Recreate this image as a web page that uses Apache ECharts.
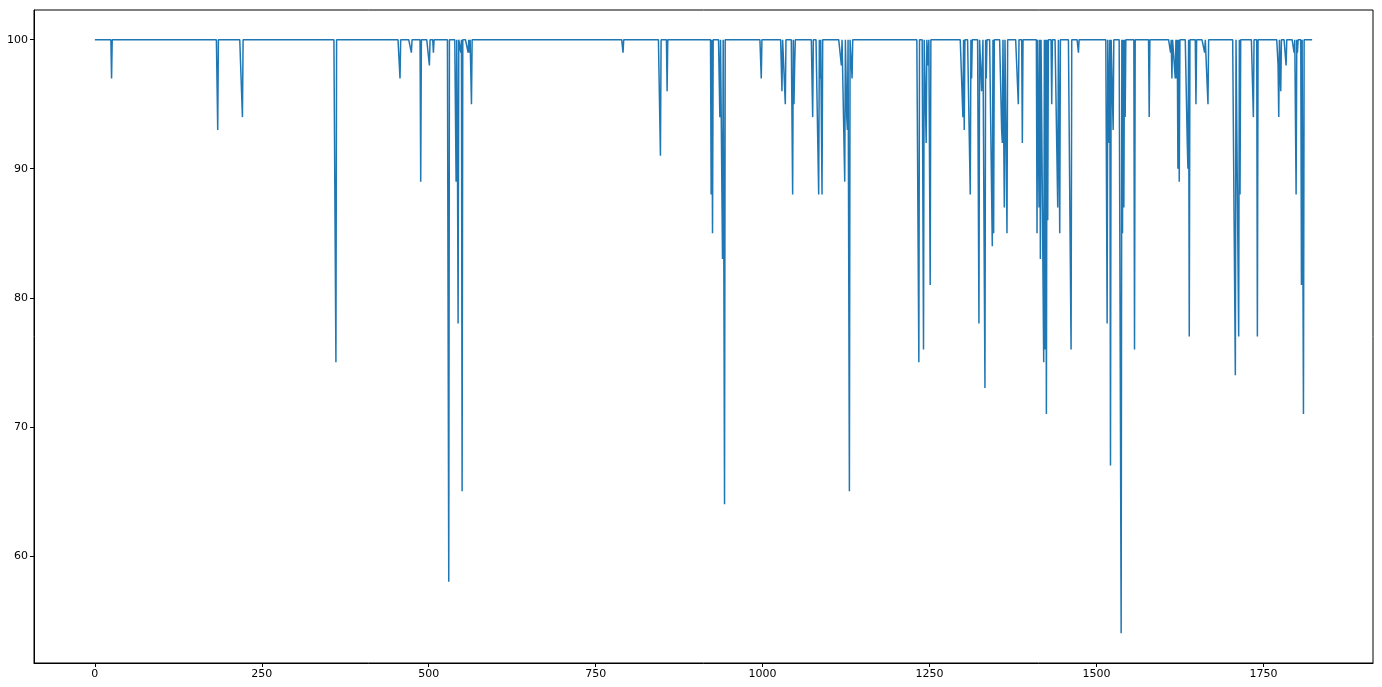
<!DOCTYPE html>
<html>
<head>
<meta charset="utf-8">
<script src="https://cdn.jsdelivr.net/npm/echarts@6/dist/echarts.min.js"></script>
<style>
html,body{margin:0;padding:0;background:#fff;}
#chart{width:1382px;height:687px;}
</style>
</head>
<body>
<div id="chart"></div>
<script>
// Number of samples (x = 0 .. lastIndex); baseline value where no dip is drawn
const lastIndex = 1823;
const baseline = 100;
// Dips: sample index and value
const dipIndex = [25,184,221,361,457,474,488,501,507,530,541,543,544,548,550,559,561,564,
  791,847,857,923,925,936,940,943,998,1029,1034,1045,1047,1048,1075,1084,1086,1089,
  1118,1123,1126,1127,1130,1134,1234,1241,1245,1248,1251,
  1300,1302,1311,1313,1324,1328,1329,1333,1335,1344,1346,1358,1359,1362,1366,
  1383,1389,1411,1414,1416,1421,1423,1425,1427,1433,1442,1445,
  1462,1473,1516,1519,1521,1525,1537,1539,1541,1543,1557,1579,
  1611,1613,1618,1620,1622,1624,1636,1637,1639,1649,1662,1667,
  1708,1713,1715,1735,1741,1772,1773,1776,1784,1796,1799,1801,1807,1810];
const dipValue = [97,93,94,75,97,99,89,98,99,58,89,91,78,99,65,99,99,95,
  99,91,96,88,85,94,83,64,97,96,95,88,95,98,94,88,97,88,
  98,89,94,93,65,97,75,76,92,98,81,
  94,93,88,97,78,96,96,73,97,84,85,93,92,87,85,
  95,92,85,87,83,75,76,71,86,95,87,85,
  76,99,78,92,67,93,54,85,87,94,76,94,
  99,97,97,97,90,89,92,90,77,95,99,95,
  74,77,88,94,77,98,94,96,98,99,88,99,81,71];
const xTicks = [0,250,500,750,1000,1250,1500,1750];
const yTicks = [60,70,80,90,100];

const values = [];
for (let i = 0; i <= lastIndex; i++) values.push(baseline);
dipIndex.forEach((ix, k) => { values[ix] = dipValue[k]; });
const seriesData = values.map((v, i) => [i, v]);

const chart = echarts.init(document.getElementById('chart'), null, {renderer: 'canvas'});
const axisCommon = {
  axisLine: {show: true, onZero: false, lineStyle: {color: '#000', width: 1}},
  axisTick: {show: true, length: 4, lineStyle: {color: '#000', width: 1}},
  splitLine: {show: false},
  axisLabel: {color: '#000', fontSize: 11, fontFamily: 'DejaVu Sans', formatter: v => String(v)}
};
chart.setOption({
  animation: false,
  backgroundColor: '#fff',
  grid: {left: 34, right: 9, top: 10, bottom: 24, show: true, borderColor: '#000', borderWidth: 1, containLabel: false},
  xAxis: Object.assign({}, axisCommon, {
    type: 'value', min: -91.15, max: 1914.15,
    axisTick: Object.assign({}, axisCommon.axisTick, {customValues: xTicks}),
    axisLabel: Object.assign({}, axisCommon.axisLabel, {customValues: xTicks, margin: 6})
  }),
  yAxis: Object.assign({}, axisCommon, {
    type: 'value', min: 51.7, max: 102.3,
    axisTick: Object.assign({}, axisCommon.axisTick, {customValues: yTicks}),
    axisLabel: Object.assign({}, axisCommon.axisLabel, {customValues: yTicks, margin: 6})
  }),
  series: [{
    type: 'line', data: seriesData, showSymbol: false, symbol: 'none',
    sampling: null, smooth: false,
    lineStyle: {color: '#1f77b4', width: 1.5}
  }]
});
</script>
</body>
</html>
